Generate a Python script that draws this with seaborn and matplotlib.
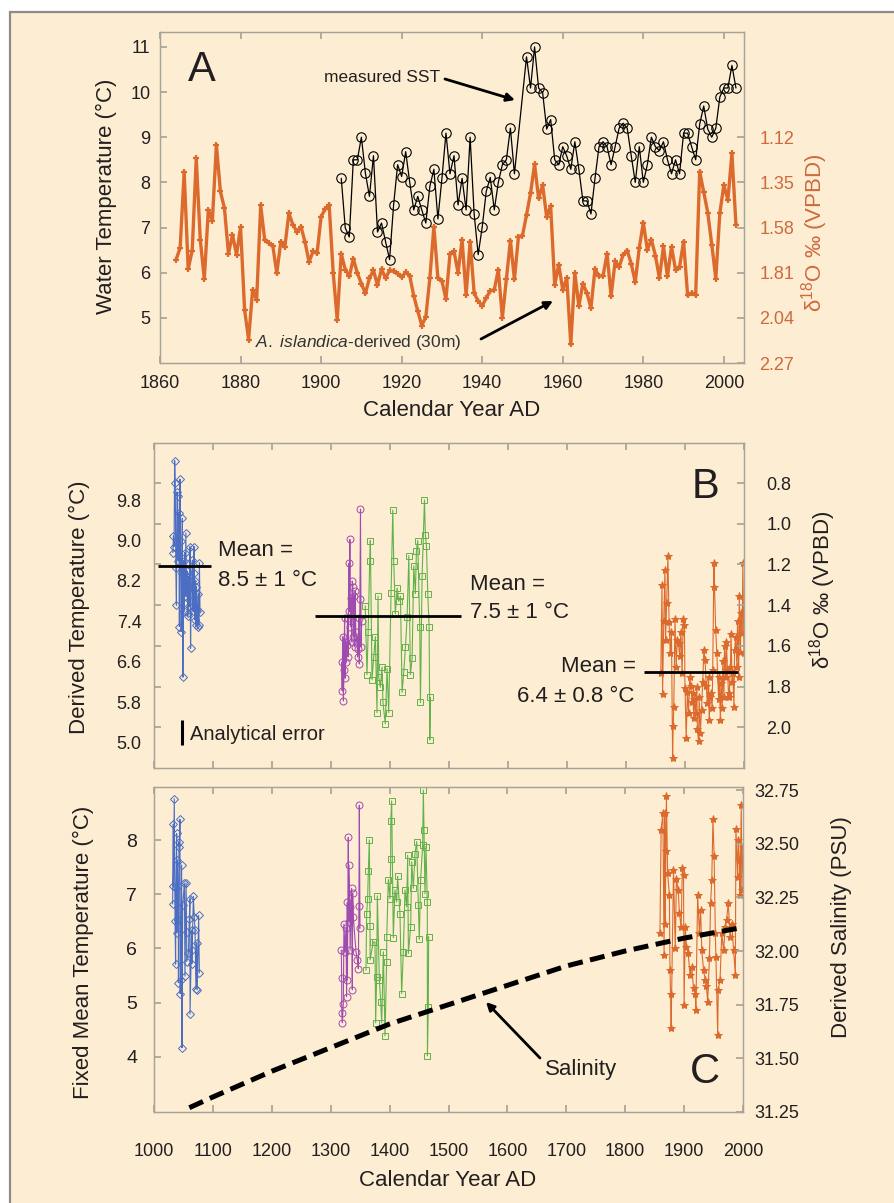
import numpy as np
import matplotlib
matplotlib.use("Agg")
import matplotlib.pyplot as plt
import seaborn as sns
from matplotlib.patches import Rectangle

sns.set_theme(style="white")
plt.rcParams['font.family'] = ['Liberation Sans', 'DejaVu Sans']
plt.rcParams['mathtext.fontset'] = 'custom'
plt.rcParams['mathtext.rm'] = 'Liberation Sans'
plt.rcParams['mathtext.it'] = 'Liberation Sans:italic'

# ---------------- DATA ----------------
# Panel A: measured SST (deg C)
sst_years = [1905, 1906, 1907, 1908, 1909, 1910, 1911, 1912, 1913, 1914, 1915, 1916, 1917, 1918, 1919,
             1920, 1921, 1922, 1923, 1924, 1925, 1926, 1927, 1928, 1929, 1930, 1931, 1932, 1933, 1934,
             1935, 1936, 1937, 1938, 1939, 1940, 1941, 1942, 1943, 1944, 1945, 1946, 1947, 1948,
             1951, 1952, 1953, 1954, 1955, 1956, 1957, 1958, 1959, 1960, 1961, 1962, 1963, 1964, 1965,
             1966, 1967, 1968, 1969, 1970, 1971, 1972, 1973, 1974, 1975, 1976, 1977, 1978, 1979, 1980,
             1981, 1982, 1983, 1984, 1985, 1986, 1987, 1988, 1989, 1990, 1991, 1992, 1993, 1994, 1995,
             1996, 1997, 1998, 1999, 2000, 2001, 2002, 2003]
sst_values = [8.09, 6.99, 6.79, 8.50, 8.50, 9.00, 8.20, 7.69, 8.59, 6.90, 7.10, 6.69, 6.29, 7.50, 8.39,
              8.13, 8.68, 8.00, 7.39, 7.69, 7.39, 7.10, 7.91, 8.29, 7.19, 8.09, 9.09, 8.19, 8.59, 7.50,
              8.09, 7.39, 9.00, 7.30, 6.40, 7.01, 7.80, 8.11, 7.39, 8.00, 8.39, 8.50, 9.20, 8.19,
              10.78, 10.09, 11.00, 10.09, 9.99, 9.18, 9.39, 8.50, 8.39, 8.79, 8.58, 8.29, 8.90, 8.29, 7.59,
              7.59, 7.30, 8.09, 8.79, 8.90, 8.79, 8.39, 8.79, 9.20, 9.31, 9.20, 8.59, 8.00, 8.79, 8.00,
              8.39, 9.00, 8.79, 8.70, 8.90, 8.50, 8.19, 8.50, 8.19, 9.09, 9.09, 8.79, 8.50, 9.29, 9.69,
              9.18, 9.00, 9.20, 9.89, 10.09, 10.09, 10.59, 10.09]

# Panel A: A. islandica-derived temperature (deg C, left-axis scale)
isl_years = list(range(1864, 2004))
isl_values = [6.29, 6.55, 8.22, 6.08, 6.49, 8.53, 6.73, 5.86, 7.39, 7.15, 8.83, 7.80, 7.43, 6.42, 6.84,
              6.40, 7.01, 5.18, 4.52, 5.62, 5.40, 7.49, 6.73, 6.66, 6.60, 5.99, 6.69, 6.57, 7.32, 7.06,
              6.91, 7.02, 6.68, 6.24, 6.47, 6.43, 7.24, 7.41, 7.50, 6.00, 4.96, 6.42, 6.07, 5.92, 6.31,
              5.99, 5.76, 5.54, 5.88, 6.05, 5.73, 6.08, 5.88, 6.05, 6.03, 5.98, 5.90, 6.01, 5.93, 5.49,
              5.15, 4.83, 5.02, 5.88, 7.02, 5.88, 5.81, 5.42, 6.41, 6.47, 6.00, 6.73, 5.51, 6.69, 5.55,
              5.37, 5.27, 5.44, 5.60, 5.62, 6.07, 5.00, 5.85, 6.71, 5.85, 6.80, 6.82, 7.28, 7.76, 8.40,
              7.65, 7.94, 7.24, 7.47, 5.73, 6.18, 5.62, 5.88, 4.41, 5.99, 5.26, 5.76, 5.55, 5.22, 6.08,
              5.93, 5.93, 6.42, 5.48, 6.25, 6.13, 6.40, 6.49, 6.20, 5.79, 6.55, 7.11, 6.51, 6.73, 6.38,
              5.88, 6.58, 5.92, 6.57, 6.07, 6.13, 6.69, 5.50, 5.55, 5.50, 8.24, 7.78, 7.33, 6.62, 5.87,
              7.32, 7.94, 7.61, 8.64, 7.06]
a_right_ticks = [1.12, 1.35, 1.58, 1.81, 2.04, 2.27]

# Panel B: derived temperature (deg C)
b_blue_years = [1032, 1033, 1034, 1035, 1036, 1037, 1038, 1039, 1040, 1041, 1042, 1043, 1044, 1045,
                1046, 1047, 1048, 1049, 1050, 1051, 1052, 1053, 1054, 1055, 1056, 1057, 1058, 1059,
                1060, 1061, 1062, 1063, 1064, 1065, 1066, 1067, 1068, 1069, 1070, 1071, 1072, 1073,
                1074, 1075, 1076, 1077, 1078]
b_blue_values = [8.76, 9.09, 8.88, 10.58, 10.14, 8.45, 7.72, 9.96, 9.87, 8.60, 9.55, 7.30, 10.21, 9.00,
                 7.20, 8.35, 9.44, 6.30, 8.60, 7.60, 8.76, 7.90, 9.15, 7.89, 8.40, 7.50, 7.56, 8.30,
                 7.70, 8.88, 6.87, 7.94, 8.20, 8.61, 7.60, 8.35, 8.88, 7.43, 8.20, 7.33, 8.09, 7.60,
                 7.30, 7.95, 7.33, 8.56, 7.59]
b_purple_years = [1318, 1319, 1320, 1321, 1322, 1323, 1324, 1325, 1326, 1327, 1328, 1329, 1330, 1331,
                  1332, 1333, 1334, 1335, 1336, 1337, 1338, 1339, 1340, 1341, 1342, 1343, 1344, 1345,
                  1346, 1347, 1348, 1349, 1350, 1351, 1352]
b_purple_values = [6.60, 6.03, 7.10, 5.83, 6.44, 7.47, 6.28, 7.00, 6.60, 6.93, 7.47, 6.70, 8.55, 7.60,
                   9.02, 7.30, 7.87, 7.00, 8.20, 8.09, 7.10, 7.90, 6.90, 8.00, 7.20, 7.00, 7.10, 6.70,
                   6.86, 7.47, 6.56, 7.85, 9.62, 6.90, 7.40]
b_green_years = [1358, 1361, 1363, 1365.6, 1366.7, 1369.5, 1372.4, 1375.2, 1378, 1379.7, 1381,
                 1383.7, 1386.5, 1388, 1392, 1395, 1397.8, 1401.8, 1404.7, 1406.3, 1409, 1412,
                 1414.8, 1417.7, 1420.5, 1423.3, 1426.2, 1429, 1431.9, 1434.6, 1437.5, 1440.3, 1443,
                 1444.8, 1447, 1450.4, 1451.6, 1454.4, 1458.4, 1460, 1461.8, 1464, 1466.3, 1467.5,
                 1468.6]
b_green_values = [7.71, 6.35, 7.20, 8.60, 9.00, 6.25, 6.70, 7.10, 5.60, 7.90, 6.30, 6.10, 6.50, 5.80,
                  5.38, 6.47, 5.60, 7.97, 9.60, 8.60, 7.55, 8.06, 7.80, 7.90, 6.00, 6.40, 6.90, 7.48,
                  8.70, 6.35, 6.67, 8.50, 7.95, 8.80, 9.00, 7.30, 5.80, 8.30, 9.80, 9.10, 8.90, 7.95,
                  7.30, 5.06, 5.90]
b_orange_years = [1859, 1861, 1862, 1864, 1866, 1867, 1869, 1871, 1873, 1875, 1877, 1879, 1880, 1881,
                  1883, 1885, 1887, 1889, 1891, 1893, 1895, 1897, 1899, 1900, 1902, 1904, 1906, 1908,
                  1910, 1912, 1913, 1915, 1916, 1918, 1920, 1921, 1923, 1924, 1926, 1928, 1930, 1932,
                  1934, 1936, 1938, 1940, 1941, 1943, 1944, 1946, 1947, 1949, 1950, 1952, 1954, 1957,
                  1958, 1960, 1961, 1963, 1964, 1966, 1967, 1969, 1970, 1972, 1974, 1975, 1977, 1978,
                  1980, 1981, 1983, 1984, 1986, 1988, 1989, 1991, 1992, 1994, 1995, 1997, 1998, 2000]
b_orange_values = [6.38, 8.13, 5.96, 7.41, 8.42, 7.04, 7.77, 8.70, 7.39, 6.77, 7.20, 4.70, 5.33, 5.72,
                   7.44, 6.50, 7.04, 6.97, 6.71, 7.20, 6.38, 7.44, 7.34, 6.09, 5.10, 6.00, 5.60, 6.30,
                   6.12, 5.80, 5.99, 5.50, 5.86, 5.60, 6.10, 5.27, 5.04, 5.90, 5.20, 5.66, 6.20, 6.84,
                   6.64, 6.12, 5.79, 6.30, 5.46, 5.90, 5.99, 5.70, 6.45, 8.55, 8.09, 7.24, 6.77, 5.86,
                   6.30, 5.46, 6.18, 5.70, 6.61, 5.90, 6.91, 6.30, 7.00, 6.45, 5.90, 5.99, 6.50, 7.15,
                   6.20, 6.38, 5.72, 6.84, 7.10, 6.50, 7.41, 6.30, 7.90, 6.80, 7.57, 7.18, 8.55, 6.77]
b_means = [8.5, 7.5, 6.4]
b_mean_starts = [1007, 1273, 1830]
b_mean_ends = [1097, 1520, 1990]
b_left_ticks = [5.0, 5.8, 6.6, 7.4, 8.2, 9.0, 9.8]
b_right_ticks = [0.8, 1.0, 1.2, 1.4, 1.6, 1.8, 2.0]
analytical_error_year = 1047
analytical_error_range = [4.96, 5.45]

# Panel C: fixed mean temperature (deg C)
c_blue_years = [1031.7, 1032.8, 1033, 1034.4, 1035.7, 1036.7, 1037.3, 1038.5, 1038.7, 1039.6, 1041.3,
                1041.5, 1042.4, 1043, 1044.1, 1044.3, 1045.3, 1046.9, 1047.5, 1048.7, 1051.6, 1052.6,
                1054.4, 1055.4, 1055.6, 1058.3, 1060, 1061, 1061.2, 1063.9, 1064.1, 1064.3, 1066.8,
                1068.4, 1069.6, 1071.2, 1072.4, 1073.5, 1075.8, 1077]
c_blue_values = [6.82, 8.29, 7.15, 8.76, 6.51, 5.71, 7.11, 8.12, 6.29, 7.63, 6.52, 5.37, 7.97, 7.88,
                 8.38, 5.17, 5.42, 7.54, 4.17, 6.80, 7.20, 5.49, 7.21, 6.31, 5.76, 5.91, 6.55, 6.92,
                 4.79, 6.34, 5.97, 5.72, 6.96, 6.58, 6.34, 5.25, 6.11, 5.24, 6.61, 5.55]
c_purple_years = [1317.9, 1318.6, 1318.8, 1319.8, 1321.4, 1322.5, 1324.2, 1325.9, 1327, 1328.2, 1328.4,
                  1329.9, 1330.5, 1331, 1332.7, 1332.9, 1335.5, 1336.7, 1337.3, 1338.4, 1342.9, 1345.2,
                  1346.9, 1347.9, 1348.6, 1349.7]
c_purple_values = [5.97, 5.45, 4.81, 4.63, 4.98, 6.45, 5.94, 6.37, 5.11, 6.85, 5.42, 8.05, 6.49, 7.54,
                   6.77, 5.97, 7.11, 5.24, 7.02, 6.58, 5.94, 5.79, 5.63, 6.79, 8.64, 6.37]
c_green_years = [1359.9, 1361, 1362.7, 1363.9, 1365.6, 1366.7, 1366.9, 1372.4, 1375.2, 1376.3, 1378,
                 1379.2, 1382.6, 1384.9, 1386.6, 1389.4, 1392.2, 1395, 1395.2, 1397.8, 1400.7, 1401.8,
                 1402, 1403.5, 1406.3, 1409.1, 1411.9, 1413.6, 1417.6, 1420.5, 1423.3, 1426.2, 1429,
                 1430.7, 1431.9, 1435.8, 1437.5, 1440.3, 1443.1, 1446, 1448.8, 1450.4, 1452.7, 1456.1,
                 1457.3, 1458.4, 1460.1, 1461.8, 1464, 1464.2, 1465.7, 1466.3]
c_green_values = [5.60, 6.64, 6.92, 7.43, 8.00, 6.41, 5.79, 6.12, 6.12, 4.63, 5.48, 6.97, 5.42, 5.02,
                  4.63, 5.94, 4.39, 5.76, 6.22, 7.27, 6.92, 7.65, 8.35, 8.72, 6.20, 7.08, 6.86, 7.33,
                  6.64, 5.17, 5.94, 7.08, 6.77, 7.72, 5.91, 6.40, 7.60, 7.11, 7.75, 7.97, 6.80, 6.17,
                  7.27, 7.91, 8.92, 8.18, 7.01, 7.88, 6.86, 4.02, 4.93, 6.22]
c_orange_years = [1859, 1861, 1864, 1866, 1867, 1868, 1869, 1870, 1872, 1875, 1876, 1877, 1878, 1882,
                  1885, 1887, 1890, 1892, 1895, 1897, 1899, 1900, 1902, 1904, 1907, 1910, 1913, 1916,
                  1919, 1920, 1923, 1926, 1928, 1930, 1933, 1936, 1938, 1940, 1943, 1945, 1947, 1949,
                  1951, 1953, 1954, 1957, 1958, 1961, 1964, 1967, 1970, 1972, 1975, 1978, 1981, 1984,
                  1987, 1988, 1991, 1992, 1994, 1995, 1997, 1998, 2000]
c_orange_values = [6.28, 8.19, 8.49, 5.88, 8.49, 6.46, 7.79, 8.81, 7.39, 6.99, 5.60, 5.17, 4.53, 7.45,
                   6.00, 7.29, 7.08, 6.65, 6.40, 7.48, 7.36, 4.96, 6.40, 6.03, 5.91, 5.51, 5.66, 5.27,
                   5.17, 4.86, 6.99, 6.28, 6.71, 5.97, 5.60, 5.42, 5.30, 5.02, 5.82, 6.84, 7.27, 8.39,
                   7.70, 6.28, 5.85, 4.41, 5.24, 5.42, 6.28, 5.97, 6.40, 6.52, 6.84, 6.22, 6.46, 5.97,
                   5.51, 8.21, 7.32, 8.00, 7.63, 6.99, 8.65, 7.08, 7.88]
sal_years = [1060, 1100, 1200, 1300, 1400, 1500, 1600, 1700, 1800, 1900, 2000]
sal_values = [31.27, 31.32, 31.44, 31.55, 31.66, 31.75, 31.84, 31.93, 32.00, 32.06, 32.11]
c_left_ticks = [4, 5, 6, 7, 8]
c_right_ticks = [31.25, 31.50, 31.75, 32.00, 32.25, 32.50, 32.75]

# ---------------- STYLE ----------------
W, H = 895, 1203
CREAM = '#FDEED3'
ORANGE = '#DC6A2C'
ORANGE_TXT = '#CD6A3E'
BLUE = '#4B6DC2'
PURPLE = '#A04BB0'
GREEN = '#62B24A'
SPINE = '#A8A39A'
TXT = '#231F20'

fig = plt.figure(figsize=(W / 100, H / 100), dpi=100, facecolor='white')
fig.add_artist(Rectangle((10 / W, -0.05), 1.2, 1 - 12 / H + 0.05, transform=fig.transFigure,
                         facecolor=CREAM, edgecolor='#8c8c8c', lw=1.6, zorder=-5))


def rect(l, t, r, b):
    return [l / W, 1 - b / H, (r - l) / W, (b - t) / H]


def fp(x, y):
    return (x, H - y)


def style_axes(ax):
    ax.set_facecolor('none')
    for s in ax.spines.values():
        s.set_color(SPINE)
        s.set_linewidth(0.9)


def series(ax, x, y, color, marker, ms, lw=0.8, filled=False, mew=0.7):
    sns.lineplot(x=x, y=y, ax=ax, color=color, linewidth=lw, marker=marker, markersize=ms,
                 markerfacecolor=color if filled else 'none', markeredgecolor=color,
                 markeredgewidth=mew, estimator=None, sort=False, legend=False)


# ---------------- PANEL A ----------------
axA = fig.add_axes(rect(160, 32, 744, 363))
style_axes(axA)
series(axA, isl_years, isl_values, ORANGE, '+', 5, lw=2.4, mew=1.6)
series(axA, sst_years, sst_values, 'black', 'o', 6.8, lw=0.9, mew=0.8)
axA.set_xlim(1860, 2005)
axA.set_ylim(4.0, 11.33)
axA.set_xticks(range(1860, 2001, 20))
axA.set_yticks(range(5, 12))
axA.tick_params(axis='x', which='both', direction='in', top=True, bottom=True, length=5,
                color=SPINE, labelsize=13, labelcolor=TXT, pad=9)
axA.tick_params(axis='y', direction='in', left=True, length=5, color=SPINE, labelsize=13,
                labelcolor=TXT, pad=7)
axA.set_xlabel('')
axA.set_ylabel('')
axA2 = axA.twinx()
style_axes(axA2)
axA2.set_ylim(2.27, 0.5841)
axA2.set_yticks(a_right_ticks)
axA2.set_yticklabels([f'{v:.2f}' for v in a_right_ticks])
axA2.tick_params(axis='y', direction='in', right=True, length=5, color=SPINE, labelsize=13,
                 labelcolor=ORANGE_TXT, pad=11)

fig.text(106 / W, 1 - 196 / H, 'Water Temperature (°C)', rotation=90, ha='center', va='center',
         fontsize=16, color=TXT)
fig.text(815 / W, 1 - 233 / H, 'δ$^{18}$O ‰ (VPBD)', rotation=90, ha='center', va='center',
         fontsize=16, color=ORANGE_TXT)
fig.text(452 / W, 1 - 411 / H, 'Calendar Year AD', ha='center', va='center', fontsize=16, color=TXT)
fig.text(202 / W, 1 - 70 / H, 'A', ha='center', va='center', fontsize=30, color=TXT)
fig.text(324 / W, 1 - 78 / H, 'measured SST', ha='left', va='center', fontsize=12.5, color=TXT)
axA.annotate('', xy=fp(515, 100), xycoords='figure pixels', xytext=fp(445, 79),
             textcoords='figure pixels',
             arrowprops=dict(arrowstyle='-|>', color='black', lw=2, mutation_scale=12,
                             shrinkA=0, shrinkB=0))
fig.text(255 / W, 1 - 343 / H, r'$\it{A.\ islandica}$-derived (30m)', ha='left', va='center',
         fontsize=12.5, color='#333333')
axA.annotate('', xy=fp(553, 301), xycoords='figure pixels', xytext=fp(481, 339),
             textcoords='figure pixels',
             arrowprops=dict(arrowstyle='-|>', color='black', lw=2, mutation_scale=12,
                             shrinkA=0, shrinkB=0))

# ---------------- PANEL B ----------------
axB = fig.add_axes(rect(154, 443, 744, 768))
style_axes(axB)
series(axB, b_blue_years, b_blue_values, BLUE, 'D', 4.2)
series(axB, b_purple_years, b_purple_values, PURPLE, 'o', 5)
series(axB, b_green_years, b_green_values, GREEN, 's', 4.5)
series(axB, b_orange_years, b_orange_values, ORANGE, '*', 6, filled=True)
axB.hlines(b_means, b_mean_starts, b_mean_ends, color='black', lw=2)
axB.vlines([analytical_error_year], analytical_error_range[0], analytical_error_range[1],
           color='black', lw=2.2)
axB.set_xlim(1000, 2000)
axB.set_ylim(4.506, 10.926)
axB.set_xticks(range(1000, 2001, 100))
axB.set_yticks(b_left_ticks)
axB.set_yticklabels([f'{v:.1f}' for v in b_left_ticks])
axB.tick_params(axis='x', direction='in', top=True, bottom=True, length=5, color=SPINE,
                labelbottom=False)
axB.tick_params(axis='y', length=0, labelsize=13, labelcolor=TXT, pad=9)
axB.set_xlabel('')
axB.set_ylabel('')
axB2 = axB.twinx()
style_axes(axB2)
axB2.set_ylim(2.1999, 0.6035)
axB2.set_yticks(b_right_ticks)
axB2.set_yticklabels([f'{v:.1f}' for v in b_right_ticks])
axB2.yaxis.set_ticks_position('both')
axB2.tick_params(axis='y', direction='in', length=5, color=SPINE, labelsize=13, labelcolor=TXT,
                 labelleft=False, labelright=True, pad=16)

fig.text(79 / W, 1 - 607 / H, 'Derived Temperature (°C)', rotation=90, ha='center', va='center',
         fontsize=16, color=TXT)
fig.text(823 / W, 1 - 590 / H, 'δ$^{18}$O ‰ (VPBD)', rotation=90, ha='center', va='center',
         fontsize=16, color=TXT)
fig.text(706 / W, 1 - 487 / H, 'B', ha='center', va='center', fontsize=30, color=TXT)
fig.text(218 / W, 1 - 550 / H, 'Mean =', ha='left', va='center', fontsize=16, color=TXT)
fig.text(218 / W, 1 - 580 / H, '8.5 ± 1 °C', ha='left', va='center', fontsize=16, color=TXT)
fig.text(470 / W, 1 - 585 / H, 'Mean =', ha='left', va='center', fontsize=16, color=TXT)
fig.text(470 / W, 1 - 612 / H, '7.5 ± 1 °C', ha='left', va='center', fontsize=16, color=TXT)
fig.text(636 / W, 1 - 667 / H, 'Mean =', ha='right', va='center', fontsize=16, color=TXT)
fig.text(634 / W, 1 - 697 / H, '6.4 ± 0.8 °C', ha='right', va='center', fontsize=16, color=TXT)
fig.text(190 / W, 1 - 735 / H, 'Analytical error', ha='left', va='center', fontsize=14.5,
         color=TXT)

# ---------------- PANEL C ----------------
axC = fig.add_axes(rect(154, 787, 743, 1112))
style_axes(axC)
series(axC, c_blue_years, c_blue_values, BLUE, 'D', 4.2)
series(axC, c_purple_years, c_purple_values, PURPLE, 'o', 5)
series(axC, c_green_years, c_green_values, GREEN, 's', 4.5)
series(axC, c_orange_years, c_orange_values, ORANGE, '*', 6, filled=True)
axC.set_xlim(1000, 2000)
axC.set_ylim(2.986, 8.977)
axC.set_xticks(range(1000, 2001, 100))
axC.set_yticks(c_left_ticks)
axC.tick_params(axis='x', direction='in', top=True, bottom=True, length=5, color=SPINE,
                labelsize=13, labelcolor=TXT, pad=22)
axC.tick_params(axis='y', direction='in', left=True, length=5, color=SPINE, labelsize=14,
                labelcolor=TXT, pad=12)
axC.set_xlabel('')
axC.set_ylabel('')
axC2 = axC.twinx()
style_axes(axC2)
sns.lineplot(x=sal_years, y=sal_values, ax=axC2, color='black', linewidth=3.6,
             estimator=None, sort=False, legend=False)
axC2.lines[-1].set_dashes([3, 1.5])
axC2.set_ylim(31.25, 32.764)
axC2.set_yticks(c_right_ticks)
axC2.set_yticklabels([f'{v:.2f}' for v in c_right_ticks])
axC2.tick_params(axis='y', direction='in', right=True, length=5, color=SPINE, labelsize=13,
                 labelcolor=TXT, pad=8)
axC2.set_ylabel('')

fig.text(83 / W, 1 - 952 / H, 'Fixed Mean Temperature (°C)', rotation=90, ha='center',
         va='center', fontsize=16, color=TXT)
fig.text(842 / W, 1 - 927 / H, 'Derived Salinity (PSU)', rotation=90, ha='center', va='center',
         fontsize=16, color=TXT)
fig.text(448 / W, 1 - 1180 / H, 'Calendar Year AD', ha='center', va='center', fontsize=16,
         color=TXT)
fig.text(705 / W, 1 - 1072 / H, 'C', ha='center', va='center', fontsize=30, color=TXT)
fig.text(545 / W, 1 - 1070 / H, 'Salinity', ha='left', va='center', fontsize=16, color=TXT)
axC.annotate('', xy=fp(486, 1002), xycoords='figure pixels', xytext=fp(540, 1058),
             textcoords='figure pixels',
             arrowprops=dict(arrowstyle='-|>', color='black', lw=2, mutation_scale=12,
                             shrinkA=0, shrinkB=0))

fig.savefig('out.png', dpi=100, facecolor='white')
